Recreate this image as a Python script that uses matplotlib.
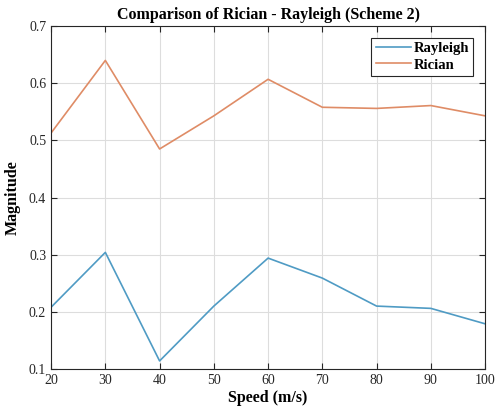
import numpy as np
import matplotlib.pyplot as plt

speed = [20, 30, 40, 50, 60, 70, 80, 90, 100]
rayleigh = [0.208, 0.304, 0.114, 0.210, 0.294, 0.259, 0.210, 0.206, 0.179]
rician = [0.513, 0.640, 0.485, 0.543, 0.607, 0.558, 0.556, 0.561, 0.543]

plt.rcParams['font.family'] = ['Liberation Serif', 'DejaVu Serif']

fig = plt.figure(figsize=(4.96, 4.15), dpi=100)
ax = fig.add_axes([0.103, 0.111, 0.875, 0.826])

ax.plot(speed, rayleigh, color='#4f9bc4', lw=1.2, label='Rayleigh')
ax.plot(speed, rician, color='#df8c66', lw=1.2, label='Rician')

ax.set_xlim(20, 100)
ax.set_ylim(0.1, 0.7)
ax.set_xticks(speed)
ax.set_yticks([0.1, 0.2, 0.3, 0.4, 0.5, 0.6, 0.7])
ax.grid(True, color='#dddddd', lw=0.8)
ax.tick_params(direction='in', top=True, right=True, labelsize=10, colors='#262626', length=4)
for s in ax.spines.values():
    s.set_color('#262626')
    s.set_linewidth(0.8)

ax.set_title('Comparison of Rician - Rayleigh (Scheme 2)', fontsize=11.5, fontweight='bold', pad=5)
ax.set_xlabel('Speed (m/s)', fontsize=11.5, fontweight='bold', labelpad=2)
ax.set_ylabel('Magnitude', fontsize=11.5, fontweight='bold', labelpad=6)

leg = ax.legend(loc='upper right', prop={'weight': 'bold', 'size': 10.5}, fancybox=False,
                edgecolor='#262626', framealpha=1, handlelength=2.4, handletextpad=0.2,
                borderaxespad=0.8, borderpad=0.3, labelspacing=0.2)
leg.get_frame().set_linewidth(0.8)

fig.savefig('out.png', dpi=100)
